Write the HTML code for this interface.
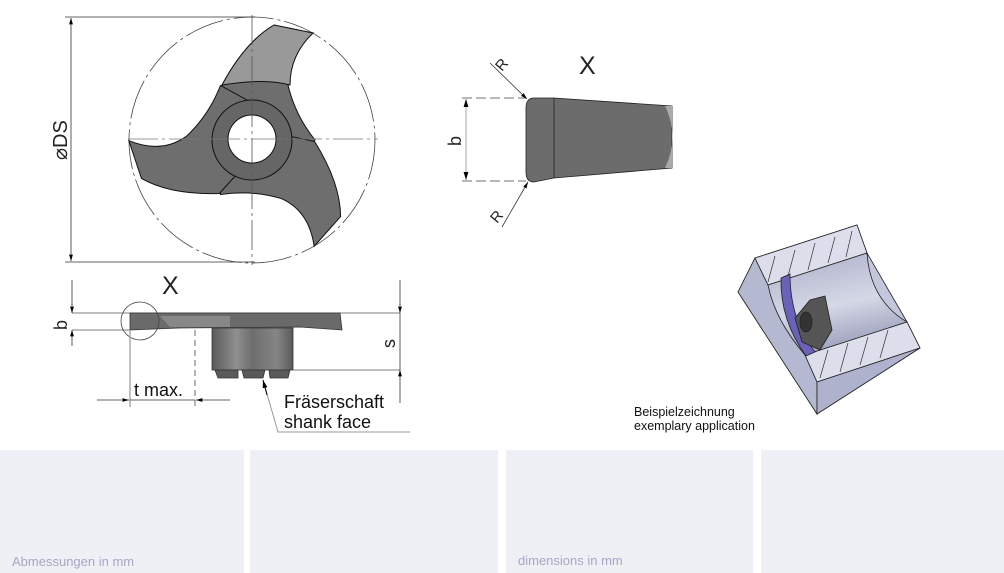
<!DOCTYPE html>
<html><head><meta charset="utf-8"><style>
html,body{margin:0;padding:0;background:#fff;width:1004px;height:573px;overflow:hidden}
svg{display:block}
text{font-family:"Liberation Sans","DejaVu Sans",sans-serif}
</style></head><body>
<svg width="1004" height="573" viewBox="0 0 1004 573">
<defs>
<marker id="ar" viewBox="0 0 10 10" refX="10" refY="5" markerWidth="8" markerHeight="8" orient="auto-start-reverse"><path d="M0,2 L10,5 L0,8 Z" fill="#000"/></marker>
<linearGradient id="sh" x1="0" x2="1"><stop offset="0" stop-color="#5a5a5a"/><stop offset="0.3" stop-color="#8f8f8f"/><stop offset="0.5" stop-color="#6e6e6e"/><stop offset="0.8" stop-color="#858585"/><stop offset="1" stop-color="#5a5a5a"/></linearGradient>
<linearGradient id="cyl" x1="0" y1="0" x2="0.3" y2="1"><stop offset="0" stop-color="#a9adc6"/><stop offset="0.6" stop-color="#d5d8e6"/><stop offset="1" stop-color="#9da1bd"/></linearGradient>
</defs>

<!-- Top-left view -->
<circle cx="252" cy="140" r="123" fill="none" stroke="#444" stroke-width="0.8" stroke-dasharray="40 4 3 4"/>
<g stroke="#111" stroke-width="1" fill="#6e6e6e">
<path d="M222,85 Q245,42 274,25 L313,33 Q285,55 288,85 Q295,115 315,140 L252,178 Z"/>
<path d="M222,85 Q245,42 274,25 L313,33 Q285,55 288,85 Q295,115 315,140 L252,178 Z" transform="rotate(120 252 140)"/>
<path d="M222,85 Q245,42 274,25 L313,33 Q285,55 288,85 Q295,115 315,140 L252,178 Z" transform="rotate(240 252 140)"/>
</g>
<path d="M222,85 Q245,42 274,25 L313,33 Q290,55 290,85 Q265,78 222,85 Z" fill="#999" stroke="#111" stroke-width="1"/>
<circle cx="252" cy="140" r="40" fill="#666" stroke="#111" stroke-width="1"/>
<circle cx="252" cy="139" r="24" fill="#fff" stroke="#111" stroke-width="1"/>
<line x1="252" y1="15" x2="252" y2="265" stroke="#555" stroke-width="0.8" stroke-dasharray="30 4 3 4"/>
<line x1="128" y1="139" x2="378" y2="139" stroke="#777" stroke-width="0.8" stroke-dasharray="30 4 3 4"/>
<line x1="65" y1="17" x2="255" y2="17" stroke="#333" stroke-width="0.8"/>
<line x1="65" y1="262" x2="255" y2="262" stroke="#333" stroke-width="0.8"/>
<line x1="71" y1="18" x2="71" y2="261" stroke="#333" stroke-width="0.8" marker-start="url(#ar)" marker-end="url(#ar)"/>
<text x="0" y="0" font-size="20" transform="translate(67,160) rotate(-90)" fill="#222">⌀DS</text>

<!-- Side view -->
<text x="162" y="294" font-size="25" fill="#222">X</text>
<line x1="72" y1="313" x2="400" y2="313" stroke="#555" stroke-width="0.7"/>
<line x1="72" y1="330" x2="130" y2="330" stroke="#555" stroke-width="0.7"/>
<line x1="72" y1="280" x2="72" y2="313" stroke="#333" stroke-width="0.8" marker-end="url(#ar)"/>
<line x1="72" y1="346" x2="72" y2="330" stroke="#333" stroke-width="0.8" marker-end="url(#ar)"/>
<text font-size="18" transform="translate(67,330) rotate(-90)" fill="#222">b</text>
<path d="M130,313 L340,313 L342,330 L300,327 L180,328 L130,330 Z" fill="#6a6a6a" stroke="#333" stroke-width="0.8"/>
<path d="M160,316 L230,316 L230,327 L170,327 Z" fill="#888"/>
<rect x="212" y="328" width="81" height="42" fill="url(#sh)" stroke="#333" stroke-width="0.8"/>
<path d="M215,370 L238,370 L238,378 L218,378 Z M242,370 L265,370 L263,378 L244,378 Z M269,370 L290,370 L288,378 L270,378 Z" fill="#5a5a5a" stroke="#333" stroke-width="0.8"/>
<circle cx="140" cy="321" r="19" fill="none" stroke="#444" stroke-width="0.8"/>
<line x1="130" y1="330" x2="130" y2="407" stroke="#aaa" stroke-width="1.5"/>
<line x1="195" y1="330" x2="195" y2="407" stroke="#444" stroke-width="0.8" stroke-dasharray="6 4"/>
<line x1="97" y1="400" x2="129" y2="400" stroke="#333" stroke-width="0.8" marker-end="url(#ar)"/>
<line x1="230" y1="400" x2="196" y2="400" stroke="#333" stroke-width="0.8" marker-end="url(#ar)"/>
<line x1="130" y1="400" x2="195" y2="400" stroke="#333" stroke-width="0.8"/>
<text x="134" y="396" font-size="18" fill="#111">t max.</text>
<line x1="293" y1="370" x2="400" y2="370" stroke="#555" stroke-width="0.7"/>
<line x1="400" y1="280" x2="400" y2="313" stroke="#333" stroke-width="0.8" marker-end="url(#ar)"/>
<line x1="400" y1="403" x2="400" y2="370" stroke="#333" stroke-width="0.8" marker-end="url(#ar)"/>
<line x1="400" y1="313" x2="400" y2="370" stroke="#333" stroke-width="0.8"/>
<text font-size="18" transform="translate(395,348) rotate(-90)" fill="#222">s</text>
<polyline points="410,432 278,432 263,380" fill="none" stroke="#999" stroke-width="1"/>
<line x1="267" y1="395" x2="263" y2="380" stroke="#000" stroke-width="1" marker-end="url(#ar)"/>
<text x="284" y="408" font-size="18" fill="#111">Fräserschaft</text>
<text x="284" y="428" font-size="18" fill="#111">shank face</text>

<!-- X detail -->
<text x="579" y="74" font-size="25" fill="#222">X</text>
<path d="M534,98 L554,98 L672,106 L672,168 L554,178 L534,182 Q526,182 526,172 L526,108 Q526,98 534,98 Z" fill="#6c6c6c" stroke="#222" stroke-width="0.8"/>
<line x1="554" y1="98" x2="554" y2="178" stroke="#222" stroke-width="0.8"/>
<path d="M665,106 Q680,137 665,168 L672,168 L672,106 Z" fill="#aaa"/>
<line x1="462" y1="98" x2="526" y2="98" stroke="#444" stroke-width="0.7" stroke-dasharray="10 4"/>
<line x1="462" y1="181" x2="526" y2="181" stroke="#444" stroke-width="0.7" stroke-dasharray="10 4"/>
<line x1="466" y1="99" x2="466" y2="180" stroke="#aaa" stroke-width="1" marker-start="url(#ar)" marker-end="url(#ar)"/>
<text font-size="18" transform="translate(461,146) rotate(-90)" fill="#222">b</text>
<line x1="490" y1="63" x2="527" y2="99" stroke="#333" stroke-width="0.8" marker-end="url(#ar)"/>
<line x1="502" y1="227" x2="528" y2="182" stroke="#333" stroke-width="0.8" marker-end="url(#ar)"/>
<text font-size="15" transform="translate(502,72) rotate(-50)" fill="#222">R</text>
<text font-size="15" transform="translate(497,224) rotate(-50)" fill="#222">R</text>

<!-- 3D application -->
<g stroke="#222" stroke-width="0.8">
<polygon points="755,258 857,225 867,253 907,322 920,348 817,414 738,292" fill="#c4c7dc"/>
<polygon points="738,292 755,258 768,285 805,355 817,382 817,414" fill="#b4b8d0"/>
<polygon points="755,258 857,225 867,253 768,285" fill="#dcdeeb"/>
<path d="M768,285 L867,253 Q870,300 907,322 L805,355 Q775,320 768,285 Z" fill="url(#cyl)"/>
<polygon points="805,355 907,322 920,348 817,382" fill="#dcdeeb"/>
<polygon points="817,382 920,348 817,414" fill="#aeb2cc"/>
<path d="M781,278 L790,274 Q790,320 815,352 L806,356 Q780,320 781,278 Z" fill="#6a62b8"/>
<path d="M795,318 L810,300 L825,296 L832,330 L820,350 L802,342 Z" fill="#555"/>
<ellipse cx="806" cy="322" rx="6" ry="10" fill="#333"/>
</g>
<g stroke="#333" stroke-width="0.7">
<line x1="775" y1="256" x2="768" y2="282"/><line x1="795" y1="250" x2="788" y2="276"/><line x1="815" y1="243" x2="808" y2="270"/><line x1="835" y1="237" x2="828" y2="263"/><line x1="852" y1="231" x2="846" y2="257"/>
<line x1="828" y1="350" x2="820" y2="378"/><line x1="848" y1="343" x2="840" y2="372"/><line x1="868" y1="337" x2="860" y2="365"/><line x1="888" y1="330" x2="880" y2="358"/>
</g>
<text x="634" y="416" font-size="12.5" fill="#111">Beispielzeichnung</text>
<text x="634" y="430" font-size="12.5" fill="#111">exemplary application</text>

<!-- Bottom panels -->
<rect x="0" y="450" width="244" height="123" fill="#eff0f5"/>
<rect x="250" y="450" width="248" height="123" fill="#eff0f5"/>
<rect x="506" y="450" width="247" height="123" fill="#eff0f5"/>
<rect x="761" y="450" width="243" height="123" fill="#eff0f5"/>
<text x="12" y="566" font-size="13" fill="#a4a8c4">Abmessungen in mm</text>
<text x="518" y="565" font-size="13" fill="#a4a8c4">dimensions in mm</text>
</svg>
</body></html>
